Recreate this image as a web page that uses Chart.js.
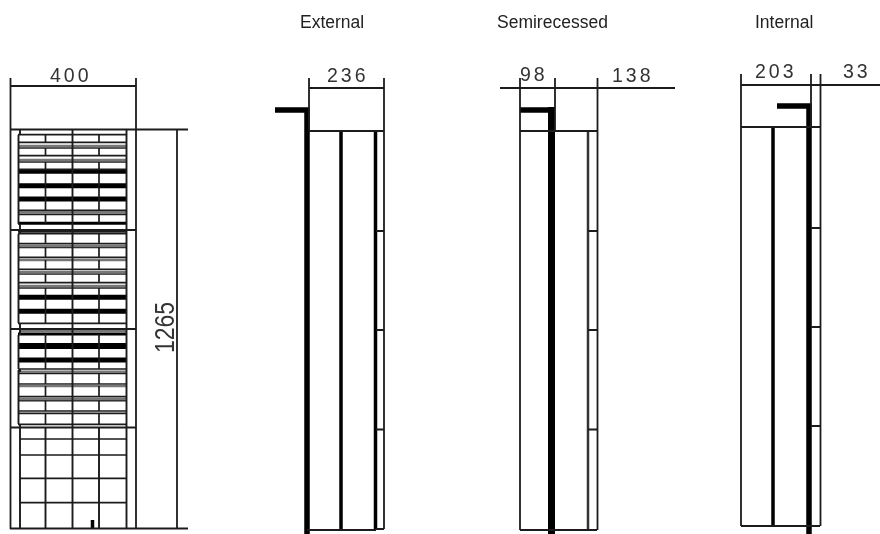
<!DOCTYPE html>
<html>
<head>
<meta charset="utf-8">
<style>
  html, body { margin: 0; padding: 0; background: #fff; }
  #c { display: block; }
</style>
<script src="https://cdn.jsdelivr.net/npm/chart.js@4/dist/chart.umd.min.js"></script>
</head>
<body>
<canvas id="c" width="880" height="534"></canvas>
<script>
const frontFrame = [[10.5,78,10.5,529],[136,78,136,529],[10,86,136,86],[10,129.5,188,129.5],[10,230,136,230],[10,329,136,329],[10,427.5,136,427.5],[10,528.5,188,528.5],[177,129,177,528]]
const frontInner = [[72.5,129,72.5,528],[126.5,129,126.5,528],[18.5,135,18.5,224],[18.5,234,18.5,323],[18.5,335,18.5,369],[18.5,370,18.5,424],[20,129,20,135],[20,224,20,234],[20,323,20,335],[20,369,20,372],[20,424,20,528],[45.5,428,45.5,528],[99,428,99,528]]
const gridRows = [439,455,478.3,502.7]
const slatThin = [134.7,142.3,148,155.7,162,169.3,210.3,214.3,231.7,233.7,243.7,247.3,257.3,269.3,274,282.7,288,323.3,369,373.3,384,396.7,400.7,411,413.3,424.3]
const slatGrey = [146,160,212.3,246,260,272.3,286,330.7,371.7,386,399]
const slatBar2 = [223.3,334]
const slatBar3 = [171.7]
const slatBar4 = [185.7,199,297.3,311.3,360]
const slatBar5 = [346]
const slatCells = [[134.7,142.3],[148,155.7],[162,169.3],[173,186],[187,199],[199,210.3],[214.3,223.3],[233.7,243.7],[247.3,257.3],[260,269.3],[274,282.7],[288,297.3],[297,311.3],[311.3,323.3],[334,346],[346,360],[360,369],[373.3,384],[386,396.7],[400.7,411],[413.3,424.3]]
const cellCols = [45.5,99]
const smallMark = [[92.5,520,92.5,529]]

const externalThin = [[309,78,309,131],[384,78,384,529],[309,88,384,88],[309,131,384,131],[307,530,376,530],[376,231,384,231],[376,330,384,330],[376,429.5,384,429.5],[376,529,384,529]]
const externalMid = [[341,131,341,530],[375.5,131,375.5,530]]
const externalHeavy = [[275,110,309,110],[307,107.5,307,534]]

const semiThin = [[500,88,675,88],[520,78,520,530],[555,78,555,131],[597.5,78,597.5,530],[520,131,597,131],[520,530,597,530],[588,231,597,231],[588,330,597,330],[588,429.5,597,429.5]]
const semiMid = [[588,131,588,530]]
const semiHeavy = [[520,110,555,110]]
const semiCore = [[551.5,107,551.5,534]]

const internalThin = [[741,85,880,85],[741,74,741,526],[811,74,811,127],[820.5,74,820.5,526],[741,127,820,127],[741,526,820,526],[811,228,820,228],[811,327,820,327],[811,426,820,426]]
const internalMid = [[773,127,773,526]]
const internalHeavy = [[777,106,811,106],[809,103.5,809,534]]

const titles = ['External','Semirecessed','Internal']
const dimensions = ['400','236','98','138','203','33']
const heightDimension = '1265'

const titleX = [300,497,755]
const dimX = [50,327,520,612,755,843]
const dimY = [82,82,81,82,78,78]

const hLines = (ys, x1, x2) => ys.map(y => [x1, y, x2, y])

const toPoints = segs => segs.flatMap(s => [{x:s[0],y:s[1]},{x:s[2],y:s[3]},{x:null,y:null}])

const lineSet = (segs, width, color) => ({
    data: toPoints(segs),
    borderColor: color || '#1c1c1c',
    borderWidth: width,
    pointRadius: 0,
    tension: 0,
    spanGaps: false,
    borderCapStyle: 'butt'
})

const cellMullions = cellCols.flatMap(x => slatCells.map(r => [x, r[0], x, r[1]]))

const textPlugin = {
    id: 'drawingText',
    afterDatasetsDraw(chart) {
        const ctx = chart.ctx
        const sx = chart.scales.x
        const sy = chart.scales.y
        ctx.save()
        ctx.textBaseline = 'alphabetic'
        ctx.fillStyle = '#222'
        ctx.font = '17.5px "Liberation Sans", Arial, sans-serif'
        titles.forEach((t, i) => ctx.fillText(t, sx.getPixelForValue(titleX[i]), sy.getPixelForValue(28)))

        ctx.fillStyle = '#333'
        ctx.font = '19.5px "Liberation Sans", Arial, sans-serif'
        ctx.letterSpacing = '3px'
        dimensions.forEach((t, i) => ctx.fillText(t, sx.getPixelForValue(dimX[i]), sy.getPixelForValue(dimY[i])))
        ctx.letterSpacing = '0px'

        ctx.translate(sx.getPixelForValue(174), sy.getPixelForValue(353))
        ctx.rotate(-Math.PI / 2)
        ctx.scale(0.82, 1)
        ctx.font = '28px "Liberation Sans", Arial, sans-serif'
        ctx.fillText(heightDimension, 0, 0)
        ctx.restore()
    }
}

new Chart(document.getElementById('c'), {
    type: 'line',
    plugins: [textPlugin],
    data: {
        datasets: [
            lineSet(frontFrame, 1.8),
            lineSet(frontInner, 1.9),
            lineSet(hLines(gridRows, 20, 127), 1.7),
            lineSet(cellMullions, 1.7),
            lineSet(hLines(slatGrey, 19, 127), 2.5, '#777'),
            lineSet(hLines(slatThin, 18, 127), 1.7),
            lineSet(hLines(slatBar2, 18, 127), 3, '#000'),
            lineSet(hLines(slatBar3, 18, 127), 4, '#000'),
            lineSet(hLines(slatBar4, 18, 127), 5, '#000'),
            lineSet(hLines(slatBar5, 18, 127), 6, '#000'),
            lineSet(smallMark, 3.5, '#000'),
            lineSet(externalThin, 1.8),
            lineSet(externalMid, 3.5, '#000'),
            lineSet(externalHeavy, 5.5, '#000'),
            lineSet(semiThin, 1.8),
            lineSet(semiMid, 2.5, '#333'),
            lineSet(semiHeavy, 5.5, '#000'),
            lineSet(semiCore, 7, '#000'),
            lineSet(internalThin, 1.8),
            lineSet(internalMid, 3.5, '#000'),
            lineSet(internalHeavy, 5.5, '#000')
        ]
    },
    options: {
        responsive: false,
        animation: false,
        events: [],
        layout: { padding: 0 },
        scales: {
            x: { type: 'linear', min: 0, max: 880, display: false },
            y: { type: 'linear', min: 0, max: 534, reverse: true, display: false }
        },
        plugins: {
            legend: { display: false },
            tooltip: { enabled: false },
            title: { display: false }
        }
    }
})
</script>
</body>
</html>
